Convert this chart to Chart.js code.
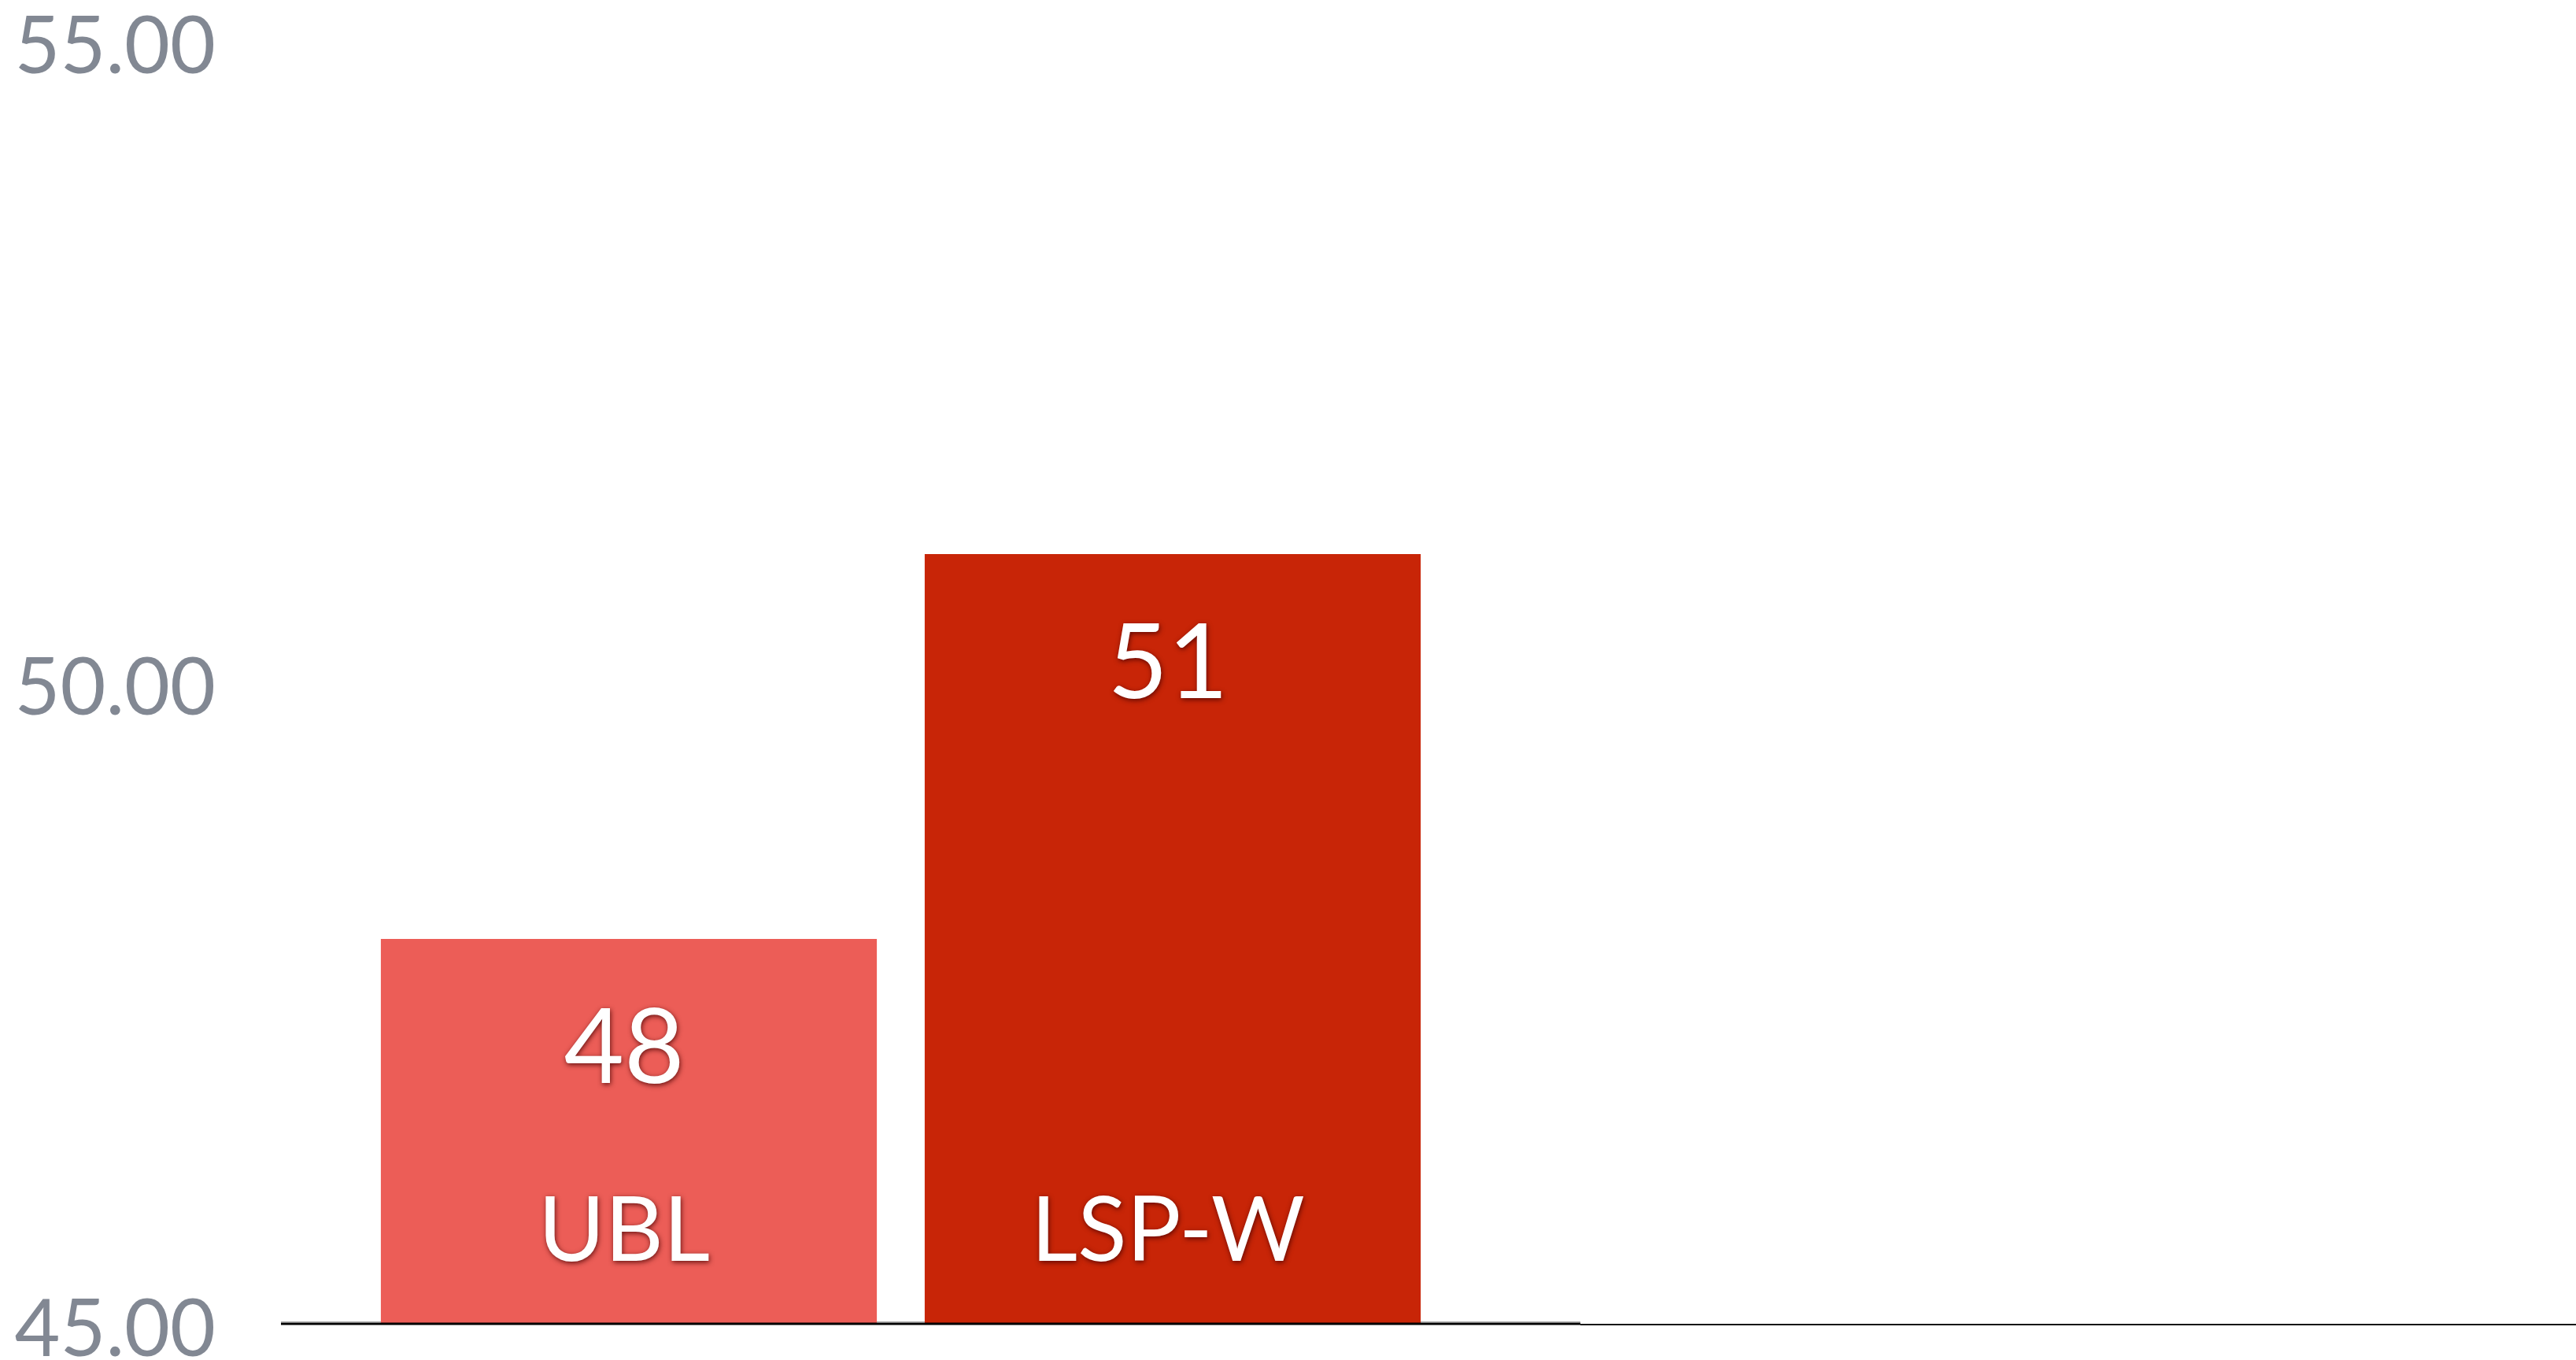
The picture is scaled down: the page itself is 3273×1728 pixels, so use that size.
<!DOCTYPE html>
<html>
<head>
<meta charset="utf-8">
<script src="https://cdn.jsdelivr.net/npm/chart.js@4.4.1/dist/chart.umd.min.js"></script>
<style>
  html, body { margin: 0; padding: 0; background: #ffffff; }
  canvas { display: block; }
</style>
</head>
<body>
<canvas id="chart" width="3273" height="1728"></canvas>
<script>
// Categories and their values
const categories = ['UBL', 'LSP-W'];
const values = [48, 51];
const barColors = ['#EC5D57', '#C82507'];

// Value axis
const yTickValues = [45, 50, 55];
const yMin = 45;
const yMax = 55;

const FONT = 'Lato, "Open Sans", "Noto Sans", sans-serif';

// White labels inside each bar: the value near the top, the category near the base
const barLabels = {
  id: 'barLabels',
  afterDatasetsDraw(chart) {
    const ctx = chart.ctx;
    const meta = chart.getDatasetMeta(0);
    const base = chart.scales.y.getPixelForValue(yMin);
    ctx.save();
    ctx.fillStyle = '#ffffff';
    ctx.textAlign = 'center';
    ctx.textBaseline = 'middle';
    ctx.shadowColor = 'rgba(70, 0, 0, 0.8)';
    ctx.shadowBlur = 6;
    ctx.shadowOffsetX = 1;
    ctx.shadowOffsetY = 2;
    meta.data.forEach((bar, i) => {
      ctx.font = '132px ' + FONT;
      ctx.fillText(String(values[i]), bar.x - 6, bar.y + 140);
      ctx.font = '115px ' + FONT;
      ctx.fillText(categories[i], bar.x - 6, base - 117);
    });
    ctx.restore();
  }
};

// Baseline along the bottom of the plot, running past the bars to the right edge
const baseline = {
  id: 'baseline',
  beforeDatasetsDraw(chart) {
    const ctx = chart.ctx;
    const y = chart.scales.y.getPixelForValue(yMin);
    ctx.save();
    ctx.strokeStyle = '#a6a6a6';
    ctx.lineWidth = 1;
    ctx.beginPath();
    ctx.moveTo(357, y - 2.5);
    ctx.lineTo(2008, y - 2.5);
    ctx.stroke();
    ctx.restore();
  },
  afterDatasetsDraw(chart) {
    const ctx = chart.ctx;
    const y = chart.scales.y.getPixelForValue(yMin);
    ctx.save();
    ctx.strokeStyle = '#000000';
    ctx.lineWidth = 3;
    ctx.beginPath();
    ctx.moveTo(357, y);
    ctx.lineTo(2008, y);
    ctx.stroke();
    ctx.strokeStyle = '#161616';
    ctx.lineWidth = 2;
    ctx.beginPath();
    ctx.moveTo(2008, y + 1);
    ctx.lineTo(chart.width, y + 1);
    ctx.stroke();
    ctx.restore();
  }
};

new Chart(document.getElementById('chart'), {
  type: 'bar',
  data: {
    labels: categories,
    datasets: [{
      data: values,
      backgroundColor: barColors,
      borderWidth: 0,
      categoryPercentage: 1.0,
      barPercentage: 0.912
    }]
  },
  options: {
    responsive: false,
    animation: false,
    devicePixelRatio: 1,
    layout: { padding: { top: 52, bottom: 46, left: 0, right: 1437.5 } },
    plugins: {
      legend: { display: false },
      tooltip: { enabled: false },
      title: { display: false }
    },
    scales: {
      x: {
        display: false
      },
      y: {
        min: yMin,
        max: yMax,
        grid: { display: false, drawTicks: false },
        border: { display: false },
        afterBuildTicks(scale) {
          scale.ticks = yTickValues.map(v => ({ value: v }));
        },
        afterFit(scale) {
          scale.width = 453.5;
          scale.paddingTop = 0;
          scale.paddingBottom = 0;
        },
        ticks: {
          padding: 179.5,
          labelOffset: 9,
          color: '#828893',
          font: { family: FONT, size: 100 },
          callback: (v) => Number(v).toFixed(2)
        }
      }
    }
  },
  plugins: [baseline, barLabels]
});
</script>
</body>
</html>
